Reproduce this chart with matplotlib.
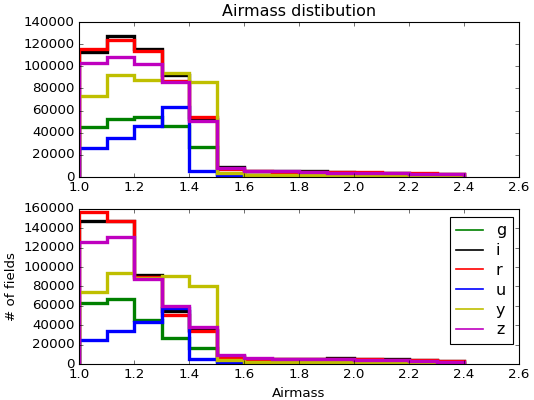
import numpy as np
import matplotlib
matplotlib.use("Agg")
import matplotlib.pyplot as plt

plt.style.use("classic")

# airmass bin edges, 1.0 .. 2.4 in steps of 0.1
edges = np.round(np.arange(1.0, 2.41, 0.1), 2)
filters = ["g", "i", "r", "u", "y", "z"]
colors = {"g": "g", "i": "k", "r": "r", "u": "b", "y": "y", "z": "m"}

# top panel counts per bin
top_g = [45000, 52000, 54000, 46000, 27000, 3000, 1500, 1500, 1500, 1500, 1500, 1200, 1000, 800]
top_i = [113000, 127000, 116000, 92000, 52000, 9000, 5500, 5000, 5000, 4500, 4000, 3500, 3000, 2500]
top_r = [116000, 124000, 114000, 87000, 54000, 7000, 5000, 4500, 4500, 4500, 4500, 4000, 3500, 2500]
top_u = [26000, 35000, 46000, 63000, 5000, 1500, 0, 0, 0, 0, 0, 0, 0, 0]
top_y = [73000, 92000, 88000, 94000, 86000, 4000, 2000, 2000, 2000, 2000, 2000, 1500, 1500, 1500]
top_z = [103000, 108000, 102000, 86000, 51000, 8000, 5500, 5000, 4500, 4000, 4000, 3500, 3000, 2500]

# bottom panel counts per bin
bot_g = [63000, 67000, 45000, 27000, 17000, 3000, 1500, 1500, 1500, 1500, 1500, 1200, 1000, 800]
bot_i = [148000, 148000, 92000, 55000, 35000, 8000, 5000, 5000, 5000, 6000, 5000, 5000, 4000, 3000]
bot_r = [157000, 148000, 90000, 51000, 34000, 7000, 5000, 5000, 5000, 5000, 5000, 4500, 4000, 3000]
bot_u = [25000, 34000, 43000, 58000, 5000, 1000, 0, 0, 0, 0, 0, 0, 0, 0]
bot_y = [74000, 94000, 89000, 91000, 80000, 4000, 2000, 2000, 2000, 2000, 2000, 1500, 1500, 1500]
bot_z = [126000, 131000, 88000, 60000, 38000, 9000, 6000, 5500, 5000, 5000, 4500, 4000, 3500, 2500]

top = dict(zip(filters, [top_g, top_i, top_r, top_u, top_y, top_z]))
bot = dict(zip(filters, [bot_g, bot_i, bot_r, bot_u, bot_y, bot_z]))

fig, (ax1, ax2) = plt.subplots(2, 1, figsize=(534 / 80, 400 / 80), dpi=80)
fig.subplots_adjust(left=0.148, right=0.972, top=0.945, bottom=0.09, hspace=0.206)

for f in filters:
    ax1.stairs(top[f], edges, color=colors[f], linewidth=3, baseline=0)
    ax2.stairs(bot[f], edges, color=colors[f], linewidth=3, baseline=0, label=f)

ax1.set_title("Airmass distibution")
ax1.set_xlim(1.0, 2.6)
ax1.set_ylim(0, 140000)
ax2.set_xlim(1.0, 2.6)
ax2.set_ylim(0, 160000)
ax2.set_xlabel("Airmass")
ax2.set_ylabel("# of fields")

leg = ax2.legend(loc="upper right", handlelength=1.7, labelspacing=0.3,
                 bbox_to_anchor=(1.0, 0.99), borderaxespad=0.4)
for h in leg.get_lines():
    h.set_linewidth(1.5)

fig.savefig("out.png", dpi=80)
